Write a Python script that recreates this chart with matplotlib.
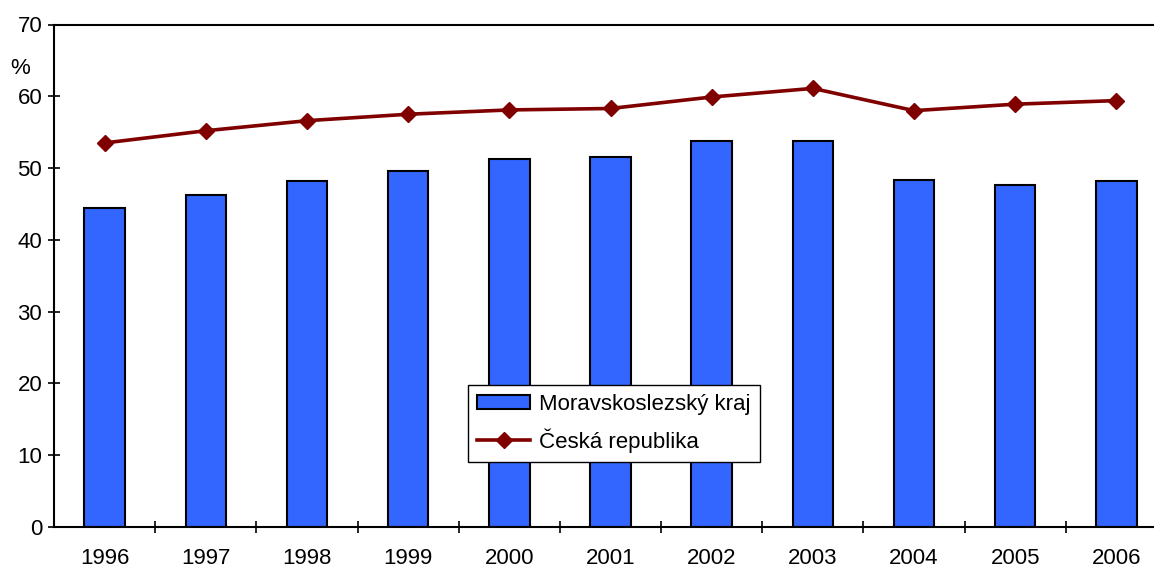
import matplotlib.pyplot as plt
import numpy as np

plt.rcParams["font.family"] = ["Liberation Sans", "DejaVu Sans"]

years = ["1996", "1997", "1998", "1999", "2000", "2001", "2002", "2003", "2004", "2005", "2006"]
moravskoslezsky = [44.5, 46.3, 48.2, 49.6, 51.3, 51.6, 53.8, 53.8, 48.3, 47.7, 48.2]
ceska_republika = [53.5, 55.2, 56.6, 57.5, 58.1, 58.3, 59.9, 61.1, 58.0, 58.9, 59.4]

W, H = 1154, 567
fig = plt.figure(figsize=(W / 100, H / 100), dpi=100)
ax = fig.add_axes([54 / W, (H - 527) / H, (1167 - 54) / W, (527 - 24.5) / H])

x = np.arange(len(years))
bars = ax.bar(x, moravskoslezsky, width=0.4, color="#3366FF", edgecolor="black",
              linewidth=1.5, label="Moravskoslezský kraj", zorder=2)
line, = ax.plot(x, ceska_republika, color="#800000", linewidth=2.6, marker="D",
                markersize=8, label="Česká republika", zorder=3)

ax.set_xlim(-0.5, len(years) - 0.5)
ax.set_ylim(0, 70)
ax.set_yticks(range(0, 71, 10))
ax.set_xticks(x)
ax.set_xticklabels(years)
ax.set_xticks(np.arange(0.5, len(years) - 0.5, 1), minor=True)
ax.tick_params(axis="x", which="major", length=0, pad=15, labelsize=16)
ax.tick_params(axis="x", which="minor", direction="inout", length=9, width=1.2)
ax.tick_params(axis="y", direction="inout", length=9, width=1.2, labelsize=16, pad=4)

for side in ["left", "bottom", "top"]:
    ax.spines[side].set_linewidth(1.5)
ax.spines["right"].set_visible(False)

fig.text(20 / W, 1 - 68 / H, "%", fontsize=16, ha="center", va="center")

leg = ax.legend([bars, line], ["Moravskoslezský kraj", "Česká republika"],
                loc="upper left", bbox_to_anchor=((468 - 54) / (1167 - 54), (527 - 385) / (527 - 24.5)),
                frameon=True, fancybox=False, edgecolor="black", framealpha=1, fontsize=16,
                handlelength=2.4, handleheight=0.6, borderpad=0.4, labelspacing=0.6,
                handletextpad=0.4, borderaxespad=0)
leg.get_frame().set_linewidth(1.0)

fig.savefig("out.png", dpi=100)
